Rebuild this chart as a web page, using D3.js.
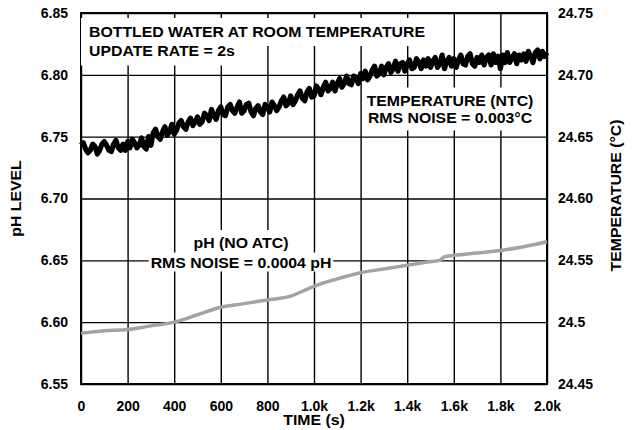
<!DOCTYPE html>
<html>
<head>
<meta charset="utf-8">
<script src="https://cdn.jsdelivr.net/npm/d3@7"></script>
<style>
  body { margin: 0; background: #fff; }
  text { font-family: "Liberation Sans", Arial, sans-serif; font-weight: bold; font-size: 14px; fill: #000; }
</style>
</head>
<body>
<div id="chart-area"></div>
<script>
const MARGIN = { LEFT: 81, RIGHT: 87, TOP: 13, BOTTOM: 46 }
const W = 634, H = 430
const WIDTH = W - MARGIN.LEFT - MARGIN.RIGHT
const HEIGHT = H - MARGIN.TOP - MARGIN.BOTTOM
const STRETCH = 1.13   // the labels in the original are set a little wide

// x axis
const timeTicks = [0, 200, 400, 600, 800, 1000, 1200, 1400, 1600, 1800, 2000]
const timeLabels = ["0", "200", "400", "600", "800", "1.0k", "1.2k", "1.4k", "1.6k", "1.8k", "2.0k"]
// left axis
const phTicks = [6.55, 6.60, 6.65, 6.70, 6.75, 6.80, 6.85]
const phLabels = ["6.55", "6.60", "6.65", "6.70", "6.75", "6.80", "6.85"]
// right axis
const tempTicks = [24.45, 24.5, 24.55, 24.6, 24.65, 24.7, 24.75]
const tempLabels = ["24.45", "24.5", "24.55", "24.60", "24.65", "24.70", "24.75"]

// pH (no ATC), grey trace
const phTime = [0, 100, 200, 300, 400, 500, 600, 700, 800, 900, 950, 1000, 1100, 1200, 1300, 1400, 1500, 1540, 1560, 1600, 1700, 1800, 1900, 2000]
const phValue = [6.591, 6.593, 6.594, 6.597, 6.600, 6.606, 6.612, 6.615, 6.618, 6.621, 6.625, 6.629, 6.635, 6.640, 6.643, 6.646, 6.649, 6.650, 6.653, 6.654, 6.656, 6.658, 6.661, 6.665]

// temperature (NTC), black trace, one sample every 10 s
const tempStep = 10
const tempValue = [
  24.643, 24.645, 24.640, 24.637, 24.639, 24.644, 24.642, 24.636, 24.639, 24.644,
  24.646, 24.643, 24.639, 24.638, 24.644, 24.647, 24.641, 24.639, 24.644, 24.639,
  24.646, 24.641, 24.648, 24.645, 24.641, 24.643, 24.649, 24.642, 24.640, 24.650,
  24.643, 24.653, 24.656, 24.650, 24.648, 24.654, 24.658, 24.651, 24.654, 24.660,
  24.652, 24.655, 24.661, 24.663, 24.658, 24.656, 24.662, 24.665, 24.659, 24.662,
  24.666, 24.660, 24.662, 24.669, 24.667, 24.663, 24.672, 24.667, 24.664, 24.671,
  24.674, 24.668, 24.667, 24.674, 24.676, 24.671, 24.669, 24.674, 24.678, 24.669,
  24.671, 24.676, 24.677, 24.670, 24.667, 24.673, 24.675, 24.670, 24.668, 24.676,
  24.674, 24.670, 24.678, 24.675, 24.671, 24.674, 24.679, 24.682, 24.675, 24.677,
  24.683, 24.676, 24.679, 24.684, 24.687, 24.681, 24.679, 24.686, 24.689, 24.682,
  24.683, 24.691, 24.688, 24.684, 24.690, 24.694, 24.687, 24.689, 24.694, 24.687,
  24.693, 24.697, 24.690, 24.693, 24.699, 24.693, 24.692, 24.699, 24.698, 24.693,
  24.701, 24.697, 24.703, 24.696, 24.699, 24.704, 24.707, 24.699, 24.701, 24.707,
  24.700, 24.706, 24.709, 24.702, 24.705, 24.711, 24.703, 24.709, 24.710, 24.703,
  24.709, 24.712, 24.705, 24.706, 24.713, 24.710, 24.705, 24.712, 24.707, 24.713,
  24.706, 24.711, 24.714, 24.706, 24.709, 24.716, 24.705, 24.711, 24.714, 24.707,
  24.713, 24.706, 24.712, 24.716, 24.709, 24.708, 24.715, 24.717, 24.709, 24.707,
  24.714, 24.710, 24.716, 24.708, 24.714, 24.716, 24.708, 24.717, 24.710, 24.715,
  24.705, 24.716, 24.710, 24.718, 24.710, 24.714, 24.717, 24.709, 24.716, 24.712,
  24.717, 24.711, 24.719, 24.715, 24.710, 24.718, 24.720, 24.713, 24.719, 24.715,
  24.718
]

const svg = d3.select("#chart-area").append("svg")
  .attr("width", W)
  .attr("height", H)

const x = d3.scaleLinear().domain([0, 2000]).range([MARGIN.LEFT, MARGIN.LEFT + WIDTH])
const yPh = d3.scaleLinear().domain([6.55, 6.85]).range([MARGIN.TOP + HEIGHT, MARGIN.TOP])
const yTemp = d3.scaleLinear().domain([24.45, 24.75]).range([MARGIN.TOP + HEIGHT, MARGIN.TOP])

function widen(sel) {
  sel.each(function () {
    const len = this.getComputedTextLength()
    d3.select(this).attr("textLength", len * STRETCH).attr("lengthAdjust", "spacingAndGlyphs")
  })
}

// grid
const xGrid = d3.axisBottom(x).tickValues(timeTicks).tickSize(-HEIGHT).tickFormat("")
const yGrid = d3.axisLeft(yPh).tickValues(phTicks).tickSize(-WIDTH).tickFormat("")

svg.append("g")
  .attr("class", "grid")
  .attr("transform", `translate(0, ${MARGIN.TOP + HEIGHT})`)
  .call(xGrid)
svg.append("g")
  .attr("class", "grid")
  .attr("transform", `translate(${MARGIN.LEFT}, 0)`)
  .call(yGrid)
svg.selectAll(".grid line").attr("stroke", "#000").attr("stroke-width", 1.4)
svg.selectAll(".grid .domain").remove()

// annotation boxes: white rect behind each text line
const notes = svg.append("g")
const labelLayer = []
function note(str, tx, ty, anchor, pad) {
  const t = notes.append("text")
    .attr("x", tx).attr("y", ty)
    .attr("text-anchor", anchor)
    .text(str)
  widen(t)
  labelLayer.push({ t: t, pad: pad })
}
note("BOTTLED WATER AT ROOM TEMPERATURE", 89, 37, "start", [8, 8, 6, 6])
note("UPDATE RATE = 2s", 89, 55.5, "start", [8, 8, 6, 7])
note("TEMPERATURE (NTC)", 450, 105.5, "middle", [4, 4, 5, 3])
note("RMS NOISE = 0.003°C", 450, 122.5, "middle", [4, 4, 3, 5])
note("pH (NO ATC)", 241, 248, "middle", [4, 4, 5, 2])
note("RMS NOISE = 0.0004 pH", 241, 267.5, "middle", [2, 2, 2, 1])

labelLayer.forEach(l => {
  const b = l.t.node().getBBox()
  notes.insert("rect", "text")
    .attr("x", b.x - l.pad[0])
    .attr("y", b.y - l.pad[2])
    .attr("width", b.width + l.pad[0] + l.pad[1])
    .attr("height", b.height + l.pad[2] + l.pad[3])
    .attr("fill", "#fff")
})

// frame
svg.append("rect")
  .attr("x", MARGIN.LEFT).attr("y", MARGIN.TOP)
  .attr("width", WIDTH).attr("height", HEIGHT)
  .attr("fill", "none").attr("stroke", "#000").attr("stroke-width", 2)

// pH trace
svg.append("path")
  .datum(phTime.map((t, i) => [t, phValue[i]]))
  .attr("fill", "none")
  .attr("stroke", "#a3a3a3")
  .attr("stroke-width", 3.5)
  .attr("stroke-linejoin", "round")
  .attr("d", d3.line().x(d => x(d[0])).y(d => yPh(d[1])).curve(d3.curveMonotoneX))

// temperature trace
svg.append("path")
  .datum(tempValue.map((v, i) => [i * tempStep, v]))
  .attr("fill", "none")
  .attr("stroke", "#000")
  .attr("stroke-width", 5.2)
  .attr("stroke-linejoin", "round")
  .attr("d", d3.line().x(d => x(d[0])).y(d => yTemp(d[1])))

notes.raise()

// axes
const xAxis = d3.axisBottom(x).tickValues(timeTicks).tickSize(0)
  .tickFormat((d, i) => timeLabels[i])
const gx = svg.append("g")
  .attr("transform", `translate(0, ${MARGIN.TOP + HEIGHT})`)
  .call(xAxis)
gx.selectAll("text").attr("y", 26.5).attr("dy", null)

const yAxisL = d3.axisLeft(yPh).tickValues(phTicks).tickSize(0).tickPadding(13)
  .tickFormat((d, i) => phLabels[i])
svg.append("g")
  .attr("transform", `translate(${MARGIN.LEFT}, 0)`)
  .call(yAxisL)

const yAxisR = d3.axisRight(yTemp).tickValues(tempTicks).tickSize(0).tickPadding(11)
  .tickFormat((d, i) => tempLabels[i])
svg.append("g")
  .attr("transform", `translate(${MARGIN.LEFT + WIDTH}, 0)`)
  .call(yAxisR)

svg.selectAll(".tick text")
  .style("font-family", "'Liberation Sans', Arial, sans-serif")
  .style("font-weight", "bold")
  .style("font-size", "14px")
  .attr("fill", "#000")
svg.selectAll(".domain").remove()

// axis titles
svg.append("text")
  .attr("x", MARGIN.LEFT + WIDTH / 2)
  .attr("y", 425)
  .attr("text-anchor", "middle")
  .text("TIME (s)")
  .call(widen)

svg.append("text")
  .attr("transform", `translate(21, ${MARGIN.TOP + HEIGHT / 2}) rotate(-90)`)
  .attr("text-anchor", "middle")
  .text("pH LEVEL")
  .call(widen)

svg.append("text")
  .attr("transform", `translate(621, ${MARGIN.TOP + HEIGHT / 2 - 3}) rotate(-90)`)
  .attr("text-anchor", "middle")
  .text("TEMPERATURE (°C)")
  .call(widen)
</script>
</body>
</html>
